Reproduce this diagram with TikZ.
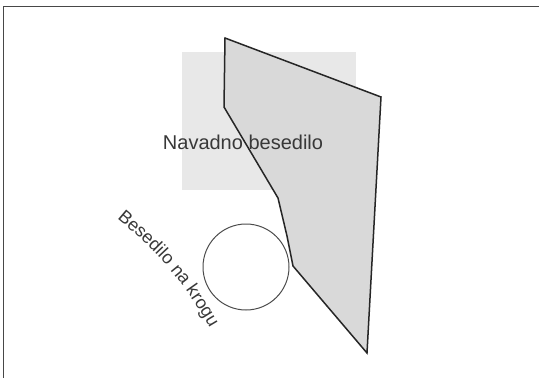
\documentclass[tikz,border=0pt]{standalone}
\usepackage{fontspec}
\setmainfont{Liberation Sans}
\usetikzlibrary{decorations.text}
\begin{document}
\begin{tikzpicture}[x=1pt,y=-1pt,
  frameline/.style={draw=black!72,line width=1.4pt},
  panel/.style={fill=black!9,draw=none,inner sep=0pt},
  shapeline/.style={draw=black!85,line width=1.5pt,fill=black!15,line join=miter},
  ring/.style={draw=black!70,line width=1pt,circle,inner sep=0pt},
  lbl/.style={text=black!78,font=\fontsize{20}{20}\selectfont,inner sep=0pt}]
\useasboundingbox (0,0) rectangle (539,378);
\fill[white] (0,0) rectangle (539,378);
\coordinate (fTL) at (3.5,6.5);
\coordinate (fTR) at (539,6.5);
\coordinate (fBL) at (3.5,378);
\draw[frameline] (fTR) -- (fTL) -- (fBL);
\node[panel, minimum width=174pt, minimum height=138pt, anchor=north west] (panel) at (182,52) {};
\draw[shapeline] (225,38) -- (381,97) -- (367,353) -- (293,266) -- (287,236) -- (278,198) -- (224,107) -- cycle;
\node[ring, minimum size=86pt] (ring) at (246,267) {};
\node[lbl] (main) at (243,142) {Navadno besedilo};
\coordinate (cs) at (114,216);
\coordinate (ce) at (212,331);
\path[decorate, decoration={text along path, text align=center, text color=black!78,
  text={|\fontsize{18}{18}\selectfont|Besedilo na krogu}}] (cs) to[bend left=10] (ce);
\end{tikzpicture}
\end{document}
